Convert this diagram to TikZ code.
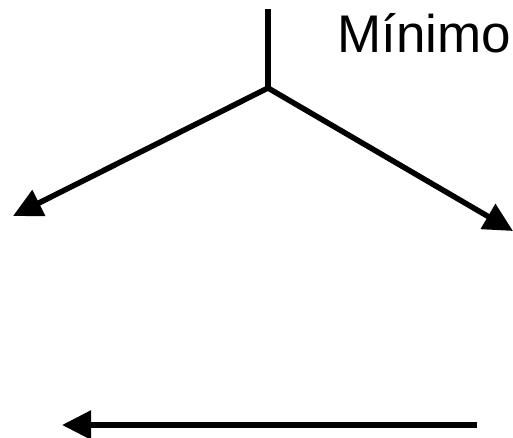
\documentclass[tikz,border=0pt]{standalone}
\usepackage{fontspec}
\setmainfont{Liberation Sans}
\usetikzlibrary{arrows.meta}

\tikzset{
  stroke/.style={line width=5.5pt, black},
  tip/.style={stroke, -{Triangle[length=29pt,width=28pt]}},
  label/.style={font=\fontsize{53}{60}\selectfont, anchor=base, inner sep=0pt}
}

\begin{document}
\begin{tikzpicture}[x=1pt,y=-1pt]
\useasboundingbox (0,0) rectangle (513,438);
\coordinate (top) at (268,9);
\coordinate (fork) at (268,88);
\coordinate (left) at (13,216);
\coordinate (right) at (513,231);
\coordinate (start) at (477,425);
\coordinate (end) at (62,425);
\node[label] (min) at (424,53) {Mínimo};
\draw[stroke] (top) -- (fork);
\draw[tip] (fork) -- (left);
\draw[tip] (fork) -- (right);
\draw[tip] (start) -- (end);
\end{tikzpicture}
\end{document}
